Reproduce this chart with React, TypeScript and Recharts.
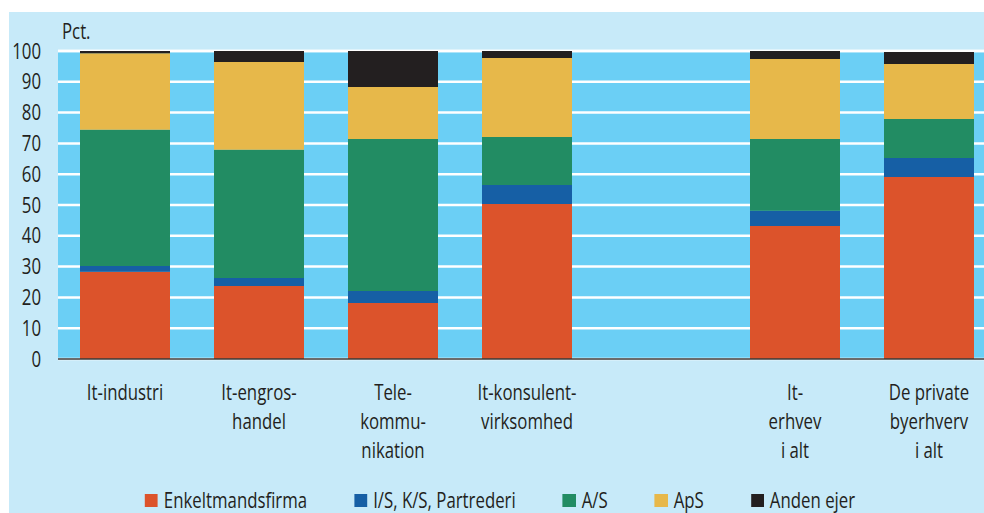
import React from 'react';
import { BarChart, Bar, XAxis, YAxis, CartesianGrid, Legend } from 'recharts';

// Ejerformer fordelt på brancher, pct.
const categories = [
    'It-industri',
    'It-engros-\nhandel',
    'Tele-\nkommu-\nnikation',
    'It-konsulent-\nvirksomhed',
    '',
    'It-\nerhvev\ni alt',
    'De private\nbyerhverv\ni alt',
];

const enkeltmandsfirma = [28.3, 23.7, 18.2, 50.3, null, 43.2, 59.1];
const isKsPartrederi = [1.9, 2.6, 3.9, 6.2, null, 4.9, 6.2];
const aktieselskab = [44.2, 41.6, 49.3, 15.6, null, 23.3, 12.6];
const anpartsselskab = [24.9, 28.5, 16.9, 25.6, null, 26.0, 17.9];
const andenEjer = [0.7, 3.6, 11.7, 2.3, null, 2.6, 3.9];

const yTicks = [0, 10, 20, 30, 40, 50, 60, 70, 80, 90, 100];

const series = [
    { key: 'enkelt', name: 'Enkeltmandsfirma', color: '#DC532B', values: enkeltmandsfirma },
    { key: 'is', name: 'I/S, K/S, Partrederi', color: '#165FA5', values: isKsPartrederi },
    { key: 'as', name: 'A/S', color: '#228C63', values: aktieselskab },
    { key: 'aps', name: 'ApS', color: '#E7B84A', values: anpartsselskab },
    { key: 'anden', name: 'Anden ejer', color: '#231F20', values: andenEjer },
];

const chartData = categories.map((name, i) => {
    const row: Record<string, string | number | null> = { name: name || `gap${i}` };
    series.forEach((s) => {
        row[s.key] = s.values[i];
    });
    return row;
});

// no condensed font installed, so squeeze Open Sans horizontally
const FONT = '"Open Sans", sans-serif';
const SQUEEZE = 0.8;
const TEXT = '#231F20';

const CategoryTick = (props: any) => {
    const { x, y, payload } = props;
    const label = categories[payload.index] ?? '';
    const lines = label ? label.split('\n') : [];
    return (
        <text
            transform={`translate(${x},${y}) scale(${SQUEEZE},1)`}
            textAnchor="middle"
            fill={TEXT}
            fontSize={21}
            fontFamily={FONT}
        >
            {lines.map((line, i) => (
                <tspan key={i} x={0} dy={i === 0 ? 41 : 29}>
                    {line}
                </tspan>
            ))}
        </text>
    );
};

const ValueTick = (props: any) => {
    const { x, y, payload } = props;
    return (
        <text
            transform={`translate(${x},${y}) scale(${SQUEEZE},1)`}
            textAnchor="end"
            dy="0.36em"
            fill={TEXT}
            fontSize={21}
            fontFamily={FONT}
        >
            {payload.value}
        </text>
    );
};

const PctLabel = (props: any) => {
    const { viewBox } = props;
    return (
        <text
            transform={`translate(${viewBox.x + viewBox.width + 4},${viewBox.y - 12}) scale(${SQUEEZE},1)`}
            fill={TEXT}
            fontSize={21}
            fontFamily={FONT}
        >
            Pct.
        </text>
    );
};

const LegendBox = () => (
    <div style={{ height: 50, paddingTop: 26, boxSizing: 'border-box' }}>
        <div
            style={{
                display: 'flex',
                justifyContent: 'center',
                gap: 47 / SQUEEZE,
                fontFamily: FONT,
                fontSize: 21,
                color: TEXT,
                lineHeight: '22px',
                transform: `scaleX(${SQUEEZE})`,
                transformOrigin: 'center',
            }}
        >
            {series.map((s) => (
                <div key={s.key} style={{ display: 'flex', alignItems: 'center', gap: 6 / SQUEEZE }}>
                    <span
                        style={{ width: 13 / SQUEEZE, height: 13, background: s.color, display: 'inline-block' }}
                    />
                    <span>{s.name}</span>
                </div>
            ))}
        </div>
    </div>
);

export default function App() {
    return (
        <>
            <style>{'body{margin:0;overflow:hidden}'}</style>
            <div
                style={{
                    margin: '12px 0 0 9px',
                    width: 975,
                    height: 501,
                    background: '#C7EAF9',
                    overflow: 'hidden',
                }}
            >
                <BarChart
                    width={987}
                    height={501}
                    data={chartData}
                    margin={{ top: 39, right: 0, bottom: 0, left: 0 }}
                    barCategoryGap={22}
                >
                    <CartesianGrid vertical={false} fill="#6BCFF5" stroke="#FFFFFF" strokeWidth={2.5} />
                    <XAxis
                        dataKey="name"
                        height={104}
                        tickLine={false}
                        tickSize={0}
                        tickMargin={0}
                        axisLine={{ stroke: '#3A3A3A', strokeWidth: 1.5 }}
                        tick={<CategoryTick />}
                        interval={0}
                    />
                    <YAxis
                        width={49}
                        domain={[0, 100]}
                        ticks={yTicks}
                        tickLine={false}
                        axisLine={false}
                        tickSize={0}
                        tickMargin={17}
                        tick={<ValueTick />}
                        label={{ value: 'Pct.', content: <PctLabel /> }}
                    />
                    <Legend verticalAlign="bottom" content={<LegendBox />} wrapperStyle={{ left: 0, width: 982 }} />
                    {series.map((s) => (
                        <Bar
                            key={s.key}
                            dataKey={s.key}
                            name={s.name}
                            stackId="ejer"
                            fill={s.color}
                            isAnimationActive={false}
                        />
                    ))}
                </BarChart>
            </div>
        </>
    );
}
